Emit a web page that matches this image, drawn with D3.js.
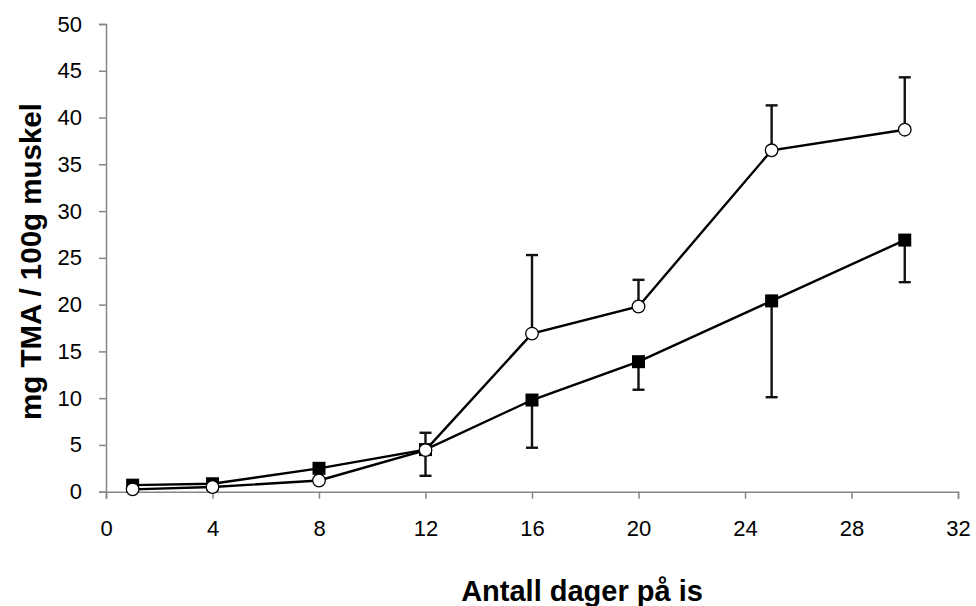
<!DOCTYPE html>
<html>
<head>
<meta charset="utf-8">
<script src="https://cdn.jsdelivr.net/npm/d3@7/dist/d3.min.js"></script>
<style>
  html, body { margin: 0; padding: 0; background: #fff; }
  svg { display: block; }
  text { font-family: "Liberation Sans", Arial, sans-serif; fill: #000; }
</style>
</head>
<body>
<svg id="chart" width="976" height="606"></svg>
<script>
// Days on ice
const days = [1, 4, 8, 12, 16, 20, 25, 30];
// Filled squares: mean mg TMA / 100 g muscle, with lower error
const seriesSquare = [0.7, 0.85, 2.5, 4.5, 9.8, 13.9, 20.4, 26.9];
const errSquareDown = [0, 0, 0, 2.8, 5.1, 3.0, 10.3, 4.5];
// Open circles: mean mg TMA / 100 g muscle, with upper error
const seriesCircle = [0.25, 0.5, 1.2, 4.45, 16.9, 19.8, 36.5, 38.7];
const errCircleUp = [0, 0, 0, 1.85, 8.4, 2.85, 4.8, 5.6];
// Axis ticks
const xTicks = [0, 4, 8, 12, 16, 20, 24, 28, 32];
const yTicks = [0, 5, 10, 15, 20, 25, 30, 35, 40, 45, 50];

const svg = d3.select("#chart");
const x = d3.scaleLinear().domain([0, 32]).range([106, 958]);
const y = d3.scaleLinear().domain([0, 50]).range([491.7, 24]);

const axisColor = "#868686";

// Y axis
const yAxis = svg.append("g").attr("transform", `translate(${x(0)},0)`)
  .call(d3.axisLeft(y).tickValues(yTicks).tickSize(7).tickPadding(17).tickFormat(d3.format("d")));
yAxis.select(".domain").attr("stroke", axisColor).attr("stroke-width", 1.5);
yAxis.selectAll(".tick line").attr("stroke", axisColor).attr("stroke-width", 1.5);
yAxis.selectAll(".tick text").attr("font-size", 22).attr("fill", "#000")
  .attr("font-family", "'Liberation Sans', Arial, sans-serif");

// X axis
const xAxis = svg.append("g").attr("transform", `translate(0,${y(0)})`)
  .call(d3.axisBottom(x).tickValues(xTicks).tickSize(7).tickPadding(22).tickFormat(d3.format("d")));
xAxis.select(".domain").attr("stroke", axisColor).attr("stroke-width", 1.5);
xAxis.selectAll(".tick line").attr("stroke", axisColor).attr("stroke-width", 1.5);
xAxis.selectAll(".tick text").attr("font-size", 22).attr("fill", "#000")
  .attr("font-family", "'Liberation Sans', Arial, sans-serif");

// Axis titles
svg.append("text")
  .attr("x", 582).attr("y", 601)
  .attr("text-anchor", "middle")
  .attr("font-size", 29).attr("font-weight", "bold")
  .text("Antall dager på is");

svg.append("text")
  .attr("transform", "translate(41,261.5) rotate(-90)")
  .attr("text-anchor", "middle")
  .attr("font-size", 29.5).attr("font-weight", "bold")
  .text("mg TMA / 100g muskel");

// Error bars (drawn beneath the lines and markers)
function errorBars(vals, errs, dir) {
  const g = svg.append("g").attr("stroke", "#111").attr("stroke-width", 2.4).attr("fill", "none");
  days.forEach((d, i) => {
    if (!errs[i]) return;
    const end = vals[i] + dir * errs[i];
    const cx = x(d);
    g.append("line").attr("x1", cx).attr("x2", cx).attr("y1", y(vals[i])).attr("y2", y(end));
    g.append("line").attr("x1", cx - 6).attr("x2", cx + 6).attr("y1", y(end)).attr("y2", y(end));
  });
}
errorBars(seriesSquare, errSquareDown, -1);
errorBars(seriesCircle, errCircleUp, 1);

const line = d3.line().x((d, i) => x(days[i])).y(d => y(d));

// Filled-square series
svg.append("path").datum(seriesSquare)
  .attr("d", line).attr("fill", "none").attr("stroke", "#000").attr("stroke-width", 2.4);
svg.append("g").selectAll("rect").data(seriesSquare).join("rect")
  .attr("x", (d, i) => x(days[i]) - 6.5).attr("y", d => y(d) - 6.5)
  .attr("width", 13).attr("height", 13).attr("fill", "#000");

// Open-circle series
svg.append("path").datum(seriesCircle)
  .attr("d", line).attr("fill", "none").attr("stroke", "#000").attr("stroke-width", 2.4);
svg.append("g").selectAll("circle").data(seriesCircle).join("circle")
  .attr("cx", (d, i) => x(days[i])).attr("cy", d => y(d)).attr("r", 6.3)
  .attr("fill", "#fff").attr("stroke", "#000").attr("stroke-width", 1.3);
</script>
</body>
</html>
